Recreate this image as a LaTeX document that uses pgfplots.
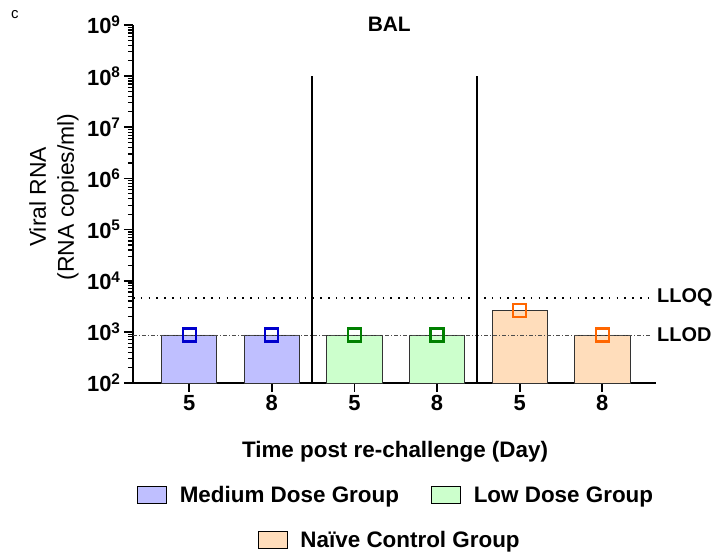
\documentclass[border=0pt]{standalone}
\usepackage{fontspec}
\setmainfont{Liberation Sans}
\usepackage{pgfplots}
\pgfplotsset{compat=1.18}
\definecolor{medfill}{HTML}{BFBFFF}
\definecolor{lowfill}{HTML}{CCFFCC}
\definecolor{naivefill}{HTML}{FFDDBB}
\definecolor{medmark}{HTML}{0000CC}
\definecolor{lowmark}{HTML}{008000}
\definecolor{naivemark}{HTML}{FF6600}
\pgfplotsset{barleg/.style={legend image code/.code={\draw[##1, line width=0.8bp, draw=black] (0bp,-8.5bp) rectangle (29bp,8.5bp); \path (40bp,0bp);}}}
\begin{document}
\begin{tikzpicture}
\begin{axis}[
  at={(0,0)}, anchor=south west,
  scale only axis, width=523bp, height=358bp,
  clip=false,
  ymode=log, log origin=infty,
  xmin=-0.68, xmax=5.65, ymin=1e2, ymax=1e9,
  axis x line*=bottom, axis y line*=left,
  axis line style={line width=2.4bp, -},
  xtick={0,1,2,3,4,5}, xticklabels={5,8,5,8,5,8},
  ytick={1e2,1e3,1e4,1e5,1e6,1e7,1e8,1e9},
  yticklabels={10\textsuperscript{2},10\textsuperscript{3},10\textsuperscript{4},10\textsuperscript{5},10\textsuperscript{6},10\textsuperscript{7},10\textsuperscript{8},10\textsuperscript{9}},
  tick align=outside,
  major tick style={black, line width=1.8bp},
  minor tick style={black, line width=1.2bp},
  major tick length=9bp, minor tick length=5bp,
  ticklabel style={font=\fontsize{22}{22}\selectfont\bfseries},
  ylabel={Viral RNA\\(RNA copies/ml)},
  ylabel style={at={(axis description cs:-0.151,0.52)}, anchor=center, align=center, font=\fontsize{23}{28}\selectfont},
  xlabel={Time post re-challenge (Day)},
  xlabel style={at={(axis description cs:0.501,-0.193)}, anchor=center, font=\fontsize{22.5}{23}\selectfont\bfseries},
  title={BAL},
  title style={at={(axis description cs:0.49,0.986)}, anchor=center, font=\fontsize{21}{21}\selectfont\bfseries},
  legend columns=2,
  legend style={draw=none, at={(axis description cs:0.503,-0.313)}, anchor=center,
    font=\fontsize{22.5}{23}\selectfont\bfseries,
    /tikz/every even column/.append style={column sep=30bp}},
]
\addplot[ybar, bar shift=0pt, bar width=0.67, fill=medfill, draw=black!80, line width=0.8bp, barleg] coordinates {(0,870) (1,870)};
\addlegendentry{Medium Dose Group}
\addplot[ybar, bar shift=0pt, bar width=0.67, fill=lowfill, draw=black!80, line width=0.8bp, barleg] coordinates {(2,870) (3,870)};
\addlegendentry{Low Dose Group}
\addplot[ybar, bar shift=0pt, bar width=0.67, fill=naivefill, draw=black!80, line width=0.8bp, forget plot] coordinates {(4,2600) (5,870)};
% limits
\addplot[black, line width=1.6bp, dash pattern=on 1.6bp off 6.2bp, forget plot] coordinates {(-0.68,4600) (5.6,4600)};
\addplot[black!70, line width=0.6bp, dash pattern=on 4bp off 2bp on 1bp off 2bp, forget plot] coordinates {(-0.68,870) (5.6,870)};
% dividers
\addplot[black, line width=2.4bp, forget plot] coordinates {(1.49,100) (1.49,1e8)};
\addplot[black, line width=2.4bp, forget plot] coordinates {(3.48,100) (3.48,1e8)};
% markers
\addplot[only marks, mark=square, mark size=6.5bp, medmark, line width=2.2bp, forget plot] coordinates {(0,870) (1,870)};
\addplot[only marks, mark=square, mark size=6.5bp, lowmark, line width=2.2bp, forget plot] coordinates {(2,870) (3,870)};
\addplot[only marks, mark=square, mark size=6.5bp, naivemark, line width=2.2bp, forget plot] coordinates {(4,2600) (5,870)};
\node[anchor=west, font=\fontsize{20}{20}\selectfont\bfseries, inner sep=1bp] at (axis cs:5.65,4600) {LLOQ};
\node[anchor=west, font=\fontsize{20}{20}\selectfont\bfseries, inner sep=1bp] at (axis cs:5.65,870) {LLOD};
\node[anchor=center, font=\fontsize{15}{15}\selectfont] at (axis description cs:-0.226,1.028) {c};
\end{axis}
\begin{axis}[
  at={(0,0)}, anchor=south west,
  scale only axis, width=523bp, height=358bp,
  hide axis, xmin=0, xmax=1, ymin=0, ymax=1,
  legend style={draw=none, at={(axis description cs:0.491,-0.4385)}, anchor=center,
    font=\fontsize{22.5}{23}\selectfont\bfseries},
]
\addlegendimage{barleg, fill=naivefill}
\addlegendentry{Naïve Control Group}
\end{axis}
\pgfresetboundingbox
\path[use as bounding box] (-133bp,-172bp) rectangle (581bp,383bp);
\end{tikzpicture}
\end{document}
